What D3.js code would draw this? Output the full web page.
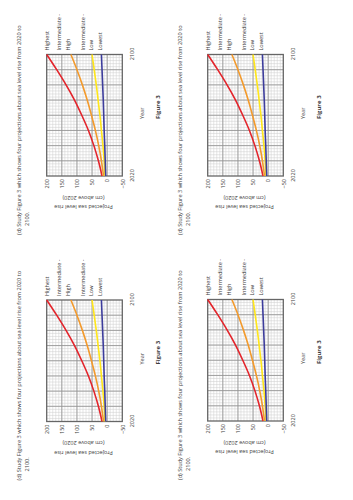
<!DOCTYPE html>
<html><head><meta charset="utf-8">
<script src="https://cdn.jsdelivr.net/npm/d3@7"></script>
<style>
body{margin:0;background:#fff}
svg{display:block}
text{font-family:"Open Sans",sans-serif;fill:#3c3c3c}
</style>
</head><body>
<svg id="c" width="353" height="500"></svg>
<script>
// ---- data ----
const years = [2020, 2030, 2040, 2050, 2060, 2070, 2080, 2090, 2100];
const highest = [17, 29, 44, 62, 84, 108, 136, 167, 200];
const intermediateHigh = [12, 19, 28, 39, 52, 66, 82, 100, 120];
const intermediateLow = [7, 10, 14, 19, 24, 30, 36, 43, 50];
const lowest = [5, 6.5, 8, 10, 11.5, 13, 15, 17, 19];
const seriesNames = ["Highest", "Intermediate - High", "Intermediate - Low", "Lowest"];
const yTickValues = [200, 150, 100, 50, 0, -50];
const xTickValues = [2020, 2100];
const questionLines = ["(d)  Study Figure 3 which shows four projections about sea level rise from 2020 to", "2100."];
const yTitle = ["Projected sea level rise", "(cm above 2020)"];

const seriesValues = [highest, intermediateHigh, intermediateLow, lowest];
const seriesColors = ["#e3242b", "#f39a2c", "#ffe619", "#3d3d9c"];

const svg = d3.select("#c");
const W = 121.5, H = 75.6;
const x = d3.scaleLinear().domain([2020, 2100]).range([0, W]);
const y = d3.scaleLinear().domain([-50, 200]).range([H, 0]);

const origins = [[46.7, 176], [207.7, 176], [46.7, 421.5], [207.7, 421]];

function drawChart(g) {
  // minor grid
  const grid = g.append("g");
  grid.selectAll("line.mx").data(d3.range(2022, 2100, 2)).join("line")
    .attr("x1", d => x(d)).attr("x2", d => x(d)).attr("y1", 0).attr("y2", H)
    .attr("stroke", "#d2d2d2").attr("stroke-width", 0.55);
  grid.selectAll("line.my").data(d3.range(-40, 200, 10)).join("line")
    .attr("y1", d => y(d)).attr("y2", d => y(d)).attr("x1", 0).attr("x2", W)
    .attr("stroke", "#d2d2d2").attr("stroke-width", 0.55);
  // major grid
  grid.selectAll("line.Mx").data(d3.range(2030, 2100, 10)).join("line")
    .attr("x1", d => x(d)).attr("x2", d => x(d)).attr("y1", 0).attr("y2", H)
    .attr("stroke", "#949494").attr("stroke-width", 0.85);
  grid.selectAll("line.My").data(d3.range(0, 200, 50)).join("line")
    .attr("y1", d => y(d)).attr("y2", d => y(d)).attr("x1", 0).attr("x2", W)
    .attr("stroke", "#949494").attr("stroke-width", 0.85);
  // border
  g.append("rect").attr("x", 0).attr("y", 0).attr("width", W).attr("height", H)
    .attr("fill", "none").attr("stroke", "#666").attr("stroke-width", 1.3);

  // lines
  const line = d3.line().x((d, i) => x(years[i])).y(d => y(d)).curve(d3.curveMonotoneX);
  seriesValues.forEach((vals, k) => {
    g.append("path").datum(vals).attr("d", line)
      .attr("fill", "none").attr("stroke", seriesColors[k]).attr("stroke-width", 1.6);
  });

  // axes
  const ya = g.append("g").call(d3.axisLeft(y).tickValues(yTickValues).tickSize(0).tickPadding(3));
  ya.select(".domain").remove();
  ya.selectAll("text").style("font-size", "5.5px").style("font-family", '"Open Sans",sans-serif').attr("fill", "#3c3c3c");
  const xa = g.append("g").attr("transform", `translate(0,${H})`)
    .call(d3.axisBottom(x).tickValues(xTickValues).tickFormat(d3.format("d")).tickSize(0).tickPadding(8));
  xa.select(".domain").remove();
  xa.selectAll("text").style("font-size", "5.5px").style("font-family", '"Open Sans",sans-serif').attr("fill", "#3c3c3c");

  // axis titles
  g.append("text").attr("x", W / 2 + 2).attr("y", H + 22).attr("text-anchor", "middle")
    .style("font-size", "5.5px").text("Year");
  g.append("text").attr("x", W / 2 + 8).attr("y", H + 37.5).attr("text-anchor", "middle")
    .style("font-size", "6px").style("font-weight", "bold").text("Figure 3");
  const yt = g.append("text").attr("transform", `translate(-29,${H / 2 - 1}) rotate(-90)`)
    .attr("text-anchor", "middle").style("font-size", "5.5px");
  yt.append("tspan").attr("x", 0).attr("dy", 0).text(yTitle[0]);
  yt.append("tspan").attr("x", 0).attr("dy", 9.5).text(yTitle[1]);

  // series labels
  const lab = [
    [seriesNames[0], y(highest[8]) + 2.6],
    ["Intermediate -", y(intermediateHigh[8]) - 9.5],
    ["High", y(intermediateHigh[8]) - 1.2],
    ["Intermediate -", y(intermediateLow[8]) - 6.6],
    ["Low", y(intermediateLow[8]) + 0.8],
    [seriesNames[3], y(lowest[8]) + 1]
  ];
  g.selectAll("text.lab").data(lab).join("text").attr("class", "lab")
    .attr("x", W + 4).attr("y", d => d[1]).style("font-size", "5.5px").text(d => d[0]);

  // question text
  g.append("text").attr("x", -59).attr("y", -25.5).style("font-size", "5.6px").text(questionLines[0]);
  g.append("text").attr("x", -50).attr("y", -18).style("font-size", "5.6px").text(questionLines[1]);
}

origins.forEach(o => drawChart(svg.append("g").attr("transform", `translate(${o[0]},${o[1]}) rotate(-90)`)));
</script>
</body></html>
